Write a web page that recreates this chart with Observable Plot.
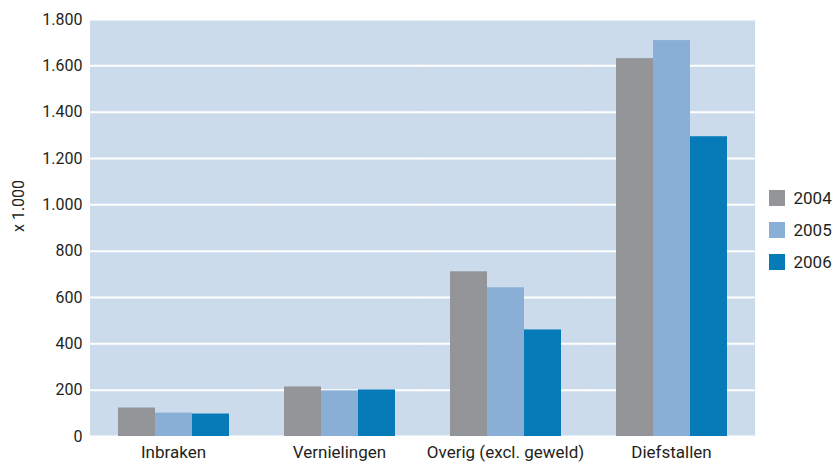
<!DOCTYPE html>
<html><head><meta charset="utf-8">
<script src="https://cdn.jsdelivr.net/npm/d3@7"></script>
<script src="https://cdn.jsdelivr.net/npm/@observablehq/plot@0.6"></script>
<style>
html,body{margin:0;padding:0;background:#fff;}
#wrap{position:relative;width:832px;height:466px;font-family:Roboto,"Liberation Sans",sans-serif;}
#leg{position:absolute;left:769px;top:188px;}
#leg .lg-swatch{font-size:17px;color:#231f20;margin-bottom:11px !important;}
</style>
</head><body><div id="wrap"><div id="chart"></div><div id="leg"></div></div>
<script>
const categories = ["Inbraken", "Vernielingen", "Overig (excl. geweld)", "Diefstallen"];
const years = ["2004", "2005", "2006"];
const v2004 = [123, 214, 711, 1631];
const v2005 = [101, 197, 642, 1709];
const v2006 = [97, 201, 460, 1294];
const colors = ["#939598", "#8aafd6", "#077bb8"];
const yTicks = [0, 200, 400, 600, 800, 1000, 1200, 1400, 1600, 1800];
const yLabel = "x 1.000";

const series = [v2004, v2005, v2006];
const data = [];
categories.forEach((c, i) => years.forEach((y, j) => data.push({cat: c, year: y, value: series[j][i]})));

const fmt = d => d3.format(",")(d).replace(/,/g, ".");

const chart = Plot.plot({
  width: 832, height: 466,
  marginLeft: 89, marginRight: 77, marginTop: 19, marginBottom: 30,
  style: {fontFamily: "Roboto, 'Liberation Sans', sans-serif", fontSize: "17px", color: "#231f20", background: "transparent"},
  fx: {domain: categories, padding: 0, label: null},
  x: {domain: years, paddingInner: 0, paddingOuter: 0.73, axis: null},
  y: {domain: [0, 1800], label: null},
  color: {domain: years, range: colors},
  marks: [
    Plot.frame({fill: "#cbdbeb", stroke: "none", insetLeft: -0.6, insetRight: -0.6}),
    Plot.gridY(yTicks, {stroke: "#fff", strokeOpacity: 1, strokeWidth: 2, insetLeft: -0.6, insetRight: -0.6}),
    Plot.barY(data, {fx: "cat", x: "year", y: "value", fill: "year"}),
    Plot.axisY(yTicks, {tickSize: 0, tickPadding: 8, tickFormat: fmt, fontSize: 16, label: null}),
    Plot.axisFx({anchor: "bottom", tickSize: 0, tickPadding: 9, fontSize: 17, label: null}),
    Plot.text([{cat: categories[0], t: yLabel}], {fx: "cat", text: "t", frameAnchor: "left", rotate: -90, dx: -72, dy: 4, fontSize: 16})
  ]
});
document.getElementById("chart").appendChild(chart);

const leg = Plot.legend({color: {domain: years, range: colors}, legend: "swatches", columns: 1, swatchSize: 16, className: "lg",
  style: {fontFamily: "Roboto, 'Liberation Sans', sans-serif", fontSize: "17px"}});
document.getElementById("leg").appendChild(leg);
</script></body></html>
